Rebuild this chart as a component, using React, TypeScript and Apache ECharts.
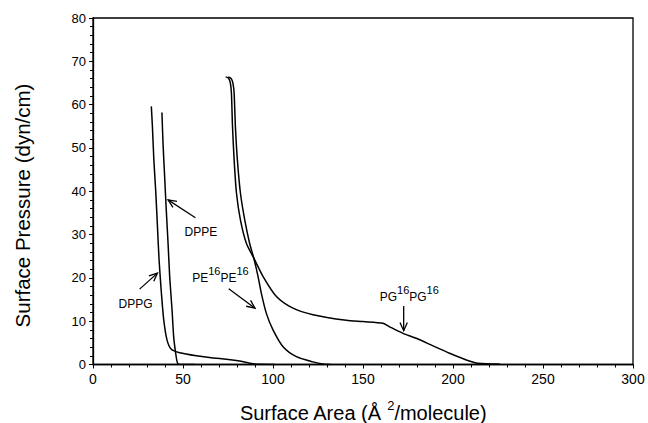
import React, { useEffect, useRef } from "react";
import * as echarts from "echarts";

// ---- Data ----
const dppgCurve: [number, number][] = [
  [32.4, 59.6], [33.0, 55.0], [33.8, 47.3], [34.9, 39.6], [35.8, 31.9], [36.7, 24.2],
  [38.0, 16.5], [39.3, 10.3], [41.1, 5.7], [43.5, 3.5], [48.2, 2.7], [57.4, 2.0],
  [66.7, 1.5], [70.4, 1.4], [79.6, 0.9], [86.1, 0.4], [89.8, 0.1], [100.9, 0.0],
];
const dppeCurve: [number, number][] = [
  [38.3, 58.2], [38.9, 51.1], [39.8, 43.4], [40.7, 35.7], [41.7, 28.0], [42.6, 20.3],
  [43.9, 12.7], [44.8, 6.5], [45.9, 2.7], [46.9, 0.4], [48.2, 0.0], [56.5, 0.0],
];
const pe16Curve: [number, number][] = [
  [75.2, 66.4], [76.8, 66.0], [77.7, 65.0], [78.4, 62.7], [79.1, 55.0], [80.2, 47.3],
  [81.9, 39.6], [84.3, 33.4], [87.0, 28.0], [89.3, 24.6], [91.7, 20.3], [93.5, 16.5],
  [96.3, 11.8], [100.0, 8.0], [105.6, 4.1], [113.0, 1.8], [122.2, 0.6], [127.8, 0.1],
  [132.0, 0.0],
];
const pg16Curve: [number, number][] = [
  [73.7, 66.4], [75.3, 66.1], [76.3, 65.0], [76.9, 62.7], [77.5, 55.0], [78.4, 47.3],
  [79.7, 39.6], [81.9, 33.4], [85.2, 28.0], [89.3, 24.6], [94.5, 20.3], [101.9, 15.7],
  [111.1, 13.0], [122.2, 11.5], [140.7, 10.2], [150.0, 9.9], [161.1, 9.5], [164.8, 8.7],
  [172.2, 7.2], [179.6, 6.05], [188.9, 4.3], [198.1, 2.6], [207.4, 1.05], [213.9, 0.27],
  [225.9, 0.1],
];

// annotation labels: [x, y, text]
const labelTexts: [number, number, string][] = [
  [59.9, 30.9, "{a|DPPE}"],
  [23.6, 14.3, "{a|DPPG}"],
  [70.8, 20.2, "{a|PE}{s|16}{a|PE}{s|16}"],
  [175.7, 15.7, "{a|PG}{s|16}{a|PG}{s|16}"],
];
// arrows: [x1, y1, x2(head), y2(head)]
const arrowData: [number, number, number, number][] = [
  [56.9, 33.9, 41.7, 38.0],
  [25.9, 17.4, 35.8, 21.1],
  [75.4, 17.5, 90.0, 13.0],
  [172.6, 13.5, 172.6, 7.8],
];

const xTickValues = [0, 50, 100, 150, 200, 250, 300];
const yTickValues = [0, 10, 20, 30, 40, 50, 60, 70, 80];
const xTitle = "{a|Surface Area (Å }{s|2}{a|/molecule)}";
const yTitle = "Surface Pressure (dyn/cm)";

const FONT = "'Liberation Sans', Arial, Helvetica, sans-serif";

export default function App() {
  const ref = useRef<HTMLDivElement>(null);
  useEffect(() => {
    if (!ref.current) return;
    const chart = echarts.init(ref.current, undefined, { renderer: "svg" });
    const lineStyle = { color: "#000", width: 1.5 };
    const mkLine = (name: string, data: [number, number][]) => ({
      name,
      type: "line",
      data,
      showSymbol: false,
      symbol: "none",
      smooth: 0.25,
      lineStyle,
      z: 3,
    });
    const richSup = {
      a: { fontFamily: FONT, fontSize: 12, lineHeight: 14, verticalAlign: "bottom", color: "#000" },
      s: {
        fontFamily: FONT,
        fontSize: 11,
        lineHeight: 14,
        verticalAlign: "bottom",
        padding: [0, 0, 8, 0],
        color: "#000",
      },
    };
    chart.setOption({
      animation: false,
      backgroundColor: "#fff",
      grid: {
        left: 93,
        right: 15,
        top: 18,
        bottom: 58.5,
        outerBoundsMode: "none",
        containLabel: false,
        show: true,
        borderColor: "#000",
        borderWidth: 1.3,
        backgroundColor: "transparent",
      },
      graphic: [
        {
          type: "text",
          x: 363,
          y: 411,
          style: {
            text: xTitle,
            align: "center",
            verticalAlign: "middle",
            fill: "#000",
            fontFamily: FONT,
            fontSize: 20,
            rich: {
              a: { fontFamily: FONT, fontSize: 20, lineHeight: 24, verticalAlign: "bottom", fill: "#000" },
              s: { fontFamily: FONT, fontSize: 13, lineHeight: 16, verticalAlign: "top", fill: "#000" },
            },
          },
        },
        {
          type: "text",
          x: 22.5,
          y: 205.5,
          rotation: Math.PI / 2,
          style: {
            text: yTitle,
            align: "center",
            verticalAlign: "middle",
            fill: "#000",
            fontFamily: FONT,
            fontSize: 20.5,
          },
        },
      ],
      xAxis: {
        type: "value",
        min: xTickValues[0],
        max: xTickValues[xTickValues.length - 1],
        interval: 50,
        axisLine: { lineStyle: { color: "#000", width: 1.3 } },
        axisTick: { inside: false, length: 4, lineStyle: { color: "#000" } },
        minorTick: { show: true, splitNumber: 5, length: 3, lineStyle: { color: "#000" } },
        axisLabel: { color: "#000", fontFamily: FONT, fontSize: 14, margin: 7 },
        splitLine: { show: false },
      },
      yAxis: {
        type: "value",
        min: yTickValues[0],
        max: yTickValues[yTickValues.length - 1],
        interval: 10,
        axisLine: { lineStyle: { color: "#000", width: 1.3 } },
        axisTick: { inside: false, length: 4, lineStyle: { color: "#000" } },
        minorTick: { show: true, splitNumber: 5, length: 3, lineStyle: { color: "#000" } },
        axisLabel: { color: "#000", fontFamily: FONT, fontSize: 13, margin: 7 },
        splitLine: { show: false },
      },
      series: [
        mkLine("DPPG", dppgCurve),
        mkLine("DPPE", dppeCurve),
        mkLine("PE16PE16", pe16Curve),
        mkLine("PG16PG16", pg16Curve),
        {
          type: "custom",
          name: "arrows",
          data: arrowData,
          silent: true,
          z: 4,
          renderItem: (params: any, api: any) => {
            const p1 = api.coord([api.value(0), api.value(1)]);
            const p2 = api.coord([api.value(2), api.value(3)]);
            const ang = Math.atan2(p2[1] - p1[1], p2[0] - p1[0]);
            const L = 9;
            const spread = 0.42;
            const h1 = [p2[0] - L * Math.cos(ang - spread), p2[1] - L * Math.sin(ang - spread)];
            const h2 = [p2[0] - L * Math.cos(ang + spread), p2[1] - L * Math.sin(ang + spread)];
            const st = { stroke: "#000", lineWidth: 1.3 };
            return {
              type: "group",
              children: [
                { type: "line", shape: { x1: p1[0], y1: p1[1], x2: p2[0], y2: p2[1] }, style: st },
                { type: "polyline", shape: { points: [h1, p2, h2] }, style: { ...st, fill: "none" } },
              ],
            };
          },
        },
        {
          type: "custom",
          name: "labels",
          data: labelTexts,
          silent: true,
          z: 5,
          renderItem: (params: any, api: any) => {
            const p = api.coord([api.value(0), api.value(1)]);
            const item = labelTexts[params.dataIndex];
            return {
              type: "text",
              x: p[0],
              y: p[1],
              style: {
                text: item[2],
                rich: richSup,
                align: "center",
                verticalAlign: "middle",
                fill: "#000",
                fontFamily: FONT,
                fontSize: 12,
              },
            };
          },
        },
      ],
    });
    return () => chart.dispose();
  }, []);
  return (
    <div
      ref={ref}
      style={{ position: "fixed", left: 0, top: 0, width: 648, height: 423, background: "#fff" }}
    />
  );
}
